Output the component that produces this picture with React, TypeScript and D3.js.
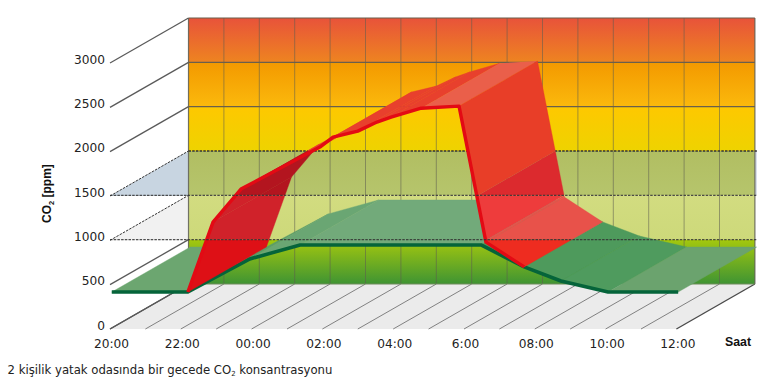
import React from "react";
import * as d3 from "d3";

// ---- data ----
const ppmTicks = [0, 500, 1000, 1500, 2000, 2500, 3000];
const hourLabels = ["20:00", "22:00", "00:00", "02:00", "04:00", "6:00", "08:00", "10:00", "12:00"];
const hourSteps = d3.range(0, 17);
const greenHours = [0.05, 2.2, 3.95, 5.37, 10.48, 11.7, 12.74, 14.07, 16.05];
const greenPpm = [417, 417, 790, 948, 948, 700, 541, 417, 417];
const redHours = [2.2, 2.91, 3.7, 5.93, 6.3, 7.0, 7.54, 7.94, 8.79, 9.86, 10.62, 11.7];
const redPpm = [417, 1206, 1578, 2052, 2165, 2232, 2334, 2390, 2490, 2514, 980, 700];

// ---- projection ----
const xFront = d3.scaleLinear().domain([0, 16]).range([110, 676.4]);
const yFront = d3.scaleLinear().domain([0, 3000]).range([329, 63]);
const DX = 78.5;
const DY = -45;
const P = (t: number, v: number, d: number): [number, number] => [xFront(t) + DX * d, yFront(v) + DY * d];
const poly = (pts: [number, number][]) => d3.line()(pts) + "Z";

const zip = (ts: number[], vs: number[]) => ts.map((t, i) => ({ t, v: vs[i] }));
const green = zip(greenHours, greenPpm);
const red = zip(redHours, redPpm);
const panel = (s: { t: number; v: number }[], i: number) =>
  poly([P(s[i].t, s[i].v, 0), P(s[i + 1].t, s[i + 1].v, 0), P(s[i + 1].t, s[i + 1].v, 1), P(s[i].t, s[i].v, 1)]);

// lower level, upper level, top colour, bottom colour
const wallStops: [number, number, string, string][] = [
  [2500, 3000, "#e8533a", "#ee8420"],
  [2000, 2500, "#f39900", "#fbb90c"],
  [1500, 2000, "#fec800", "#eed300"],
  [1000, 1500, "#b1be62", "#b6c56c"],
  [500, 1000, "#d2dc80", "#cdd97a"],
  [0, 500, "#a4c80e", "#3f9433"],
];
const wallClips = [
  { id: "wa", lo: 1500, hi: 4000 },
  { id: "wb", lo: 1000, hi: 1500 },
  { id: "wc", lo: 500, hi: 1000 },
  { id: "wd", lo: -500, hi: 500 },
];
const wallY = (v: number) => yFront(v) + DY;

const greenColors = ["#6ca670", "#5c9d69", "#6aa673", "#72aa7a", "#4e9a5c", "#4e9a5c", "#4f9b5e", "#6ba36e"];
const riseColors: Record<string, string> = { wa: "#e8402d", wb: "#b3151f", wc: "#d0222a", wd: "#de1016" };

const fallT = d3.scaleLinear().domain(redPpm.slice(9)).range(redHours.slice(9));
const vBand = (lo: number, hi: number) =>
  poly([P(fallT(lo), lo, -2), P(fallT(lo), lo, 3), P(fallT(hi), hi, 3), P(fallT(hi), hi, -2)]);
const fallBands = [
  { id: "vh", lo: 1500, hi: 3500 },
  { id: "vm", lo: 1000, hi: 1500 },
  { id: "vl", lo: 300, hi: 1000 },
];
const fallCombos = [
  { w: "wa", v: "vh", c: "#e83e28" },
  { w: "wb", v: "vh", c: "#e83e28" },
  { w: "wb", v: "vm", c: "#dc2a2e" },
  { w: "wc", v: "vm", c: "#ee3c3c" },
  { w: "wc", v: "vl", c: "#e8524a" },
  { w: "wd", v: "vl", c: "#ee2c20" },
  { w: "wd", v: "vm", c: "#ee2c20" },
];

const frontLine = d3
  .line<{ t: number; v: number }>()
  .x((d) => xFront(d.t))
  .y((d) => yFront(d.v));

const FONT = "'DejaVu Sans', sans-serif";

export default function App() {
  const wallL = P(0, 0, 1)[0];
  const wallR = P(16, 0, 1)[0];
  return (
    <svg width={782} height={385} style={{ position: "absolute", left: 0, top: 0, display: "block" }} fontFamily={FONT}>
      <defs>
        {wallStops.map((b, i) => (
          <linearGradient key={i} id={`g${i}`} x1="0" x2="0" y1="0" y2="1">
            <stop offset="0" stopColor={b[2]} />
            <stop offset="1" stopColor={b[3]} />
          </linearGradient>
        ))}
        {wallClips.map((w) => (
          <clipPath key={w.id} id={w.id}>
            <rect x={0} y={wallY(w.hi)} width={782} height={wallY(w.lo) - wallY(w.hi)} />
          </clipPath>
        ))}
        {fallBands.map((b) => (
          <clipPath key={b.id} id={b.id}>
            <path d={vBand(b.lo, b.hi)} />
          </clipPath>
        ))}
      </defs>

      {/* back wall */}
      {wallStops.map((b, i) => (
        <rect key={i} x={wallL} y={wallY(b[1])} width={wallR - wallL} height={wallY(b[0]) - wallY(b[1])} fill={`url(#g${i})`} />
      ))}
      {/* side wall wedges */}
      <path d={poly([P(0, 1500, 0), P(0, 1500, 1), [wallL, yFront(1500)]])} fill="#c8d5e1" />
      <path d={poly([P(0, 1000, 0), P(0, 1000, 1), [wallL, yFront(1000)]])} fill="#f1f1f1" />
      <rect x={wallR} y={wallY(2000) + 44.3} width={2} height={44} fill="#d5dcea" />
      {/* floor */}
      <path d={poly([P(0, 0, 0), P(0, 0, 1), P(16, 0, 1), P(16, 0, 0)])} fill="#ebebeb" />
      {hourSteps.map((t) => (
        <line key={t} x1={P(t, 0, 0)[0]} y1={P(t, 0, 0)[1]} x2={P(t, 0, 1)[0]} y2={P(t, 0, 1)[1]}
          stroke={t === 0 || t === 16 ? "#4a4a4a" : "#666"} strokeWidth={t === 0 || t === 16 ? 1.4 : 0.8} />
      ))}
      {/* wall grid */}
      {hourSteps.map((t) => (
        <line key={t} x1={P(t, 0, 1)[0]} y1={wallY(3000)} x2={P(t, 0, 1)[0]} y2={wallY(0)}
          stroke="#5c5c50" strokeOpacity={t === 0 || t === 16 ? 0.85 : 0.55} strokeWidth={t === 0 || t === 16 ? 1.2 : 1} />
      ))}
      {/* level lines */}
      {ppmTicks.map((v) => {
        const dashed = v === 1000 || v === 1500;
        return (
          <line key={v} x1={P(0, v, 0)[0]} y1={P(0, v, 0)[1]} x2={P(0, v, 1)[0]} y2={P(0, v, 1)[1]}
            stroke={dashed ? "#333" : "#5a5a5a"} strokeWidth={dashed ? 1 : 1.3} strokeDasharray={dashed ? "2.5 1.2" : undefined} />
        );
      })}
      {[3000, 2500, 2000].map((v) => (
        <line key={v} x1={wallL} x2={wallR} y1={wallY(v)} y2={wallY(v)} stroke="#6a5f4c" strokeWidth={1.2} />
      ))}
      <line x1={wallL} x2={wallR} y1={wallY(0)} y2={wallY(0)} stroke="#6f8a5a" strokeWidth={1} />
      <line x1={wallL} x2={wallR + 2} y1={wallY(1500)} y2={wallY(1500)} stroke="#333" strokeWidth={1.3} strokeDasharray="2.5 1.2" />

      {/* green ribbon */}
      {green.slice(0, -1).map((_, i) => (
        <path key={i} d={panel(green, i)} fill={greenColors[i]} stroke={greenColors[i]} strokeWidth={0.4} />
      ))}
      <path d={frontLine(green) as string} fill="none" stroke="#05643a" strokeWidth={3.6} strokeLinejoin="round" />

      {/* red ribbon: rising faces */}
      {red.slice(0, 8).map((_, i) =>
        wallClips.map((w) => (
          <g key={`${i}${w.id}`} clipPath={`url(#${w.id})`}>
            <path d={panel(red, i)} fill={riseColors[w.id]} stroke={riseColors[w.id]} strokeWidth={0.4} />
          </g>
        ))
      )}
      {/* flat top */}
      <path d={panel(red, 8)} fill="#ea5f4a" />
      {/* falling faces */}
      {[9, 10].map((i) =>
        fallCombos.map((c) => (
          <g key={`${i}${c.w}${c.v}`} clipPath={`url(#${c.w})`}>
            <g clipPath={`url(#${c.v})`}>
              <path d={panel(red, i)} fill={c.c} stroke={c.c} strokeWidth={0.3} />
            </g>
          </g>
        ))
      )}
      <path d={frontLine(red) as string} fill="none" stroke="#e30a14" strokeWidth={3.4} strokeLinejoin="round" />

      {/* dashed levels in front */}
      {[1000, 500].map((v) => (
        <line key={v} x1={P(0, 1000, 0)[0]} x2={wallR + 2}
          y1={wallY(v)} y2={wallY(v)} stroke="#333" strokeOpacity={0.85} strokeWidth={1.3} strokeDasharray="2.5 1.2" />
      ))}

      {/* axis text */}
      {ppmTicks.map((v) => (
        <text key={v} x={105} y={yFront(v) + 0.5} textAnchor="end" fontSize={12.2} fill="#222">{v}</text>
      ))}
      {hourLabels.map((h, i) => (
        <text key={h} x={xFront(i * 2) + 1.5} y={347.5} textAnchor="middle" fontSize={12.2} fill="#222">{h}</text>
      ))}
      <text x={725} y={345.5} fontSize={12.3} fontWeight="bold" fill="#111" fontFamily="'Liberation Sans', sans-serif">Saat</text>
      <text transform="translate(51,223) rotate(-90)" fontSize={12} fontWeight="bold" fill="#111" fontFamily="'Liberation Sans', sans-serif">
        CO<tspan fontSize={7.5} dy={2.5}>2</tspan><tspan dy={-2.5}> [ppm]</tspan>
      </text>
      <text x={7.5} y={373.5} fontSize={11.7} fill="#222">
        2 kişilik yatak odasında bir gecede CO<tspan fontSize={7} dy={2.5}>2</tspan><tspan dy={-2.5}> konsantrasyonu</tspan>
      </text>
    </svg>
  );
}
